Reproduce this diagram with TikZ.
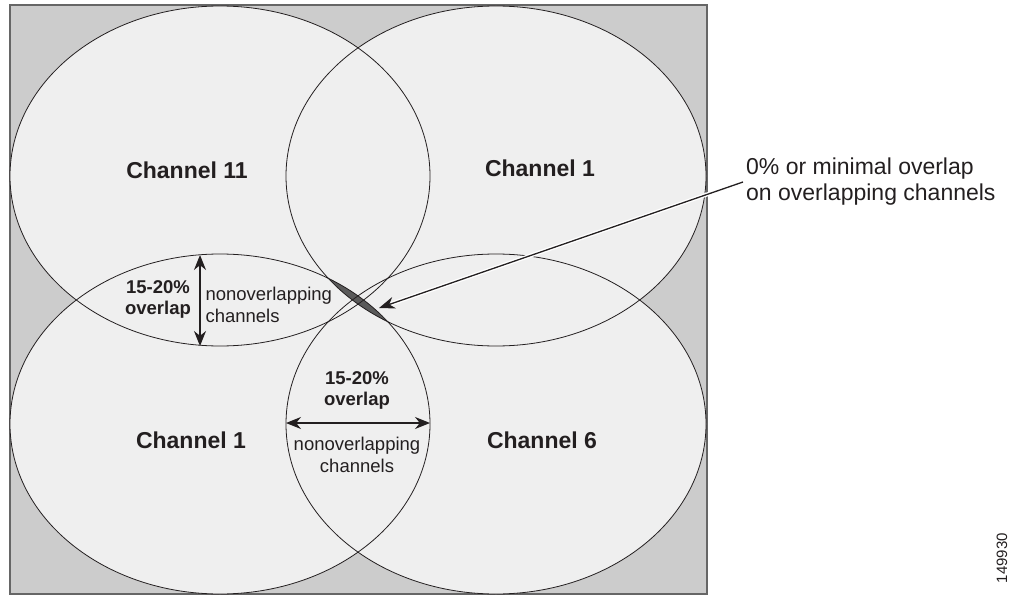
\documentclass[tikz,border=0pt]{standalone}
\usepackage{fontspec}
\setmainfont{Liberation Sans}
\usetikzlibrary{arrows.meta}
\definecolor{bggray}{HTML}{CCCCCC}
\definecolor{cellgray}{HTML}{EFEFEF}
\definecolor{lensgray}{HTML}{5A5A5A}
\definecolor{ink}{HTML}{231F20}
\begin{document}
\begin{tikzpicture}[x=1pt, y=-1pt, ink,
  chan/.style={font=\fontsize{23}{26}\selectfont\bfseries},
  pct/.style={font=\fontsize{18.5}{21}\selectfont\bfseries, align=center},
  nonov/.style={font=\fontsize{18.5}{22}\selectfont},
  span/.style={{Stealth[length=15pt,width=12pt]}-{Stealth[length=15pt,width=12pt]}, line width=1.2pt}]
\useasboundingbox (0,0) rectangle (1014,596);
\draw [fill=bggray, draw=black!60, line width=1.2pt] (10,5) rectangle (707,594);
\coordinate (tl) at (220,176);
\coordinate (tr) at (496,176);
\coordinate (bl) at (220,424);
\coordinate (br) at (496,424);
\foreach \c in {tl,tr,bl,br}
  \fill [cellgray] (\c) ellipse (210pt and 170pt);
% lens where channel 1 (top) meets channel 1 (bottom)
\begin{scope}
\clip (tr) ellipse (210pt and 170pt);
\fill [lensgray] (bl) ellipse (210pt and 170pt);
\end{scope}
\foreach \c in {tl,tr,bl,br}
  \draw [line width=0.8pt] (\c) ellipse (210pt and 170pt);
\node (ch11) [chan] at (187,170) {Channel 11};
\node (ch1a) [chan] at (540,168) {Channel 1};
\node (ch1b) [chan] at (191,440) {Channel 1};
\node (ch6) [chan] at (542,440) {Channel 6};
\coordinate (vtop) at (200,255);
\coordinate (vbot) at (200,346);
\draw [span] (vtop) -- (vbot);
\node (pct1) [pct] at (158,299) {15-20\%\\overlap};
\node (nov1) [nonov, anchor=west, align=left] at (202,305) {nonoverlapping\\channels};
\coordinate (hleft) at (286,423);
\coordinate (hright) at (430,423);
\draw [span] (hleft) -- (hright);
\node (pct2) [pct] at (357,390) {15-20\%\\overlap};
\node (nov2) [nonov, align=center] at (357,455) {nonoverlapping\\channels};
\node (note) [anchor=west, align=left, font=\fontsize{23}{26}\selectfont, inner sep=3pt] at (743,182) {0\% or minimal overlap\\on overlapping channels};
\coordinate (lens) at (379,308);
\draw [white, line width=4pt, -{Stealth[length=16pt,width=12pt]}] (note.west) -- (lens);
\draw [line width=1.3pt, -{Stealth[length=16pt,width=12pt]}] (note.west) -- (lens);
\node (figid) [rotate=90, font=\fontsize{15}{15}\selectfont] at (1002,558) {149930};
\end{tikzpicture}
\end{document}
